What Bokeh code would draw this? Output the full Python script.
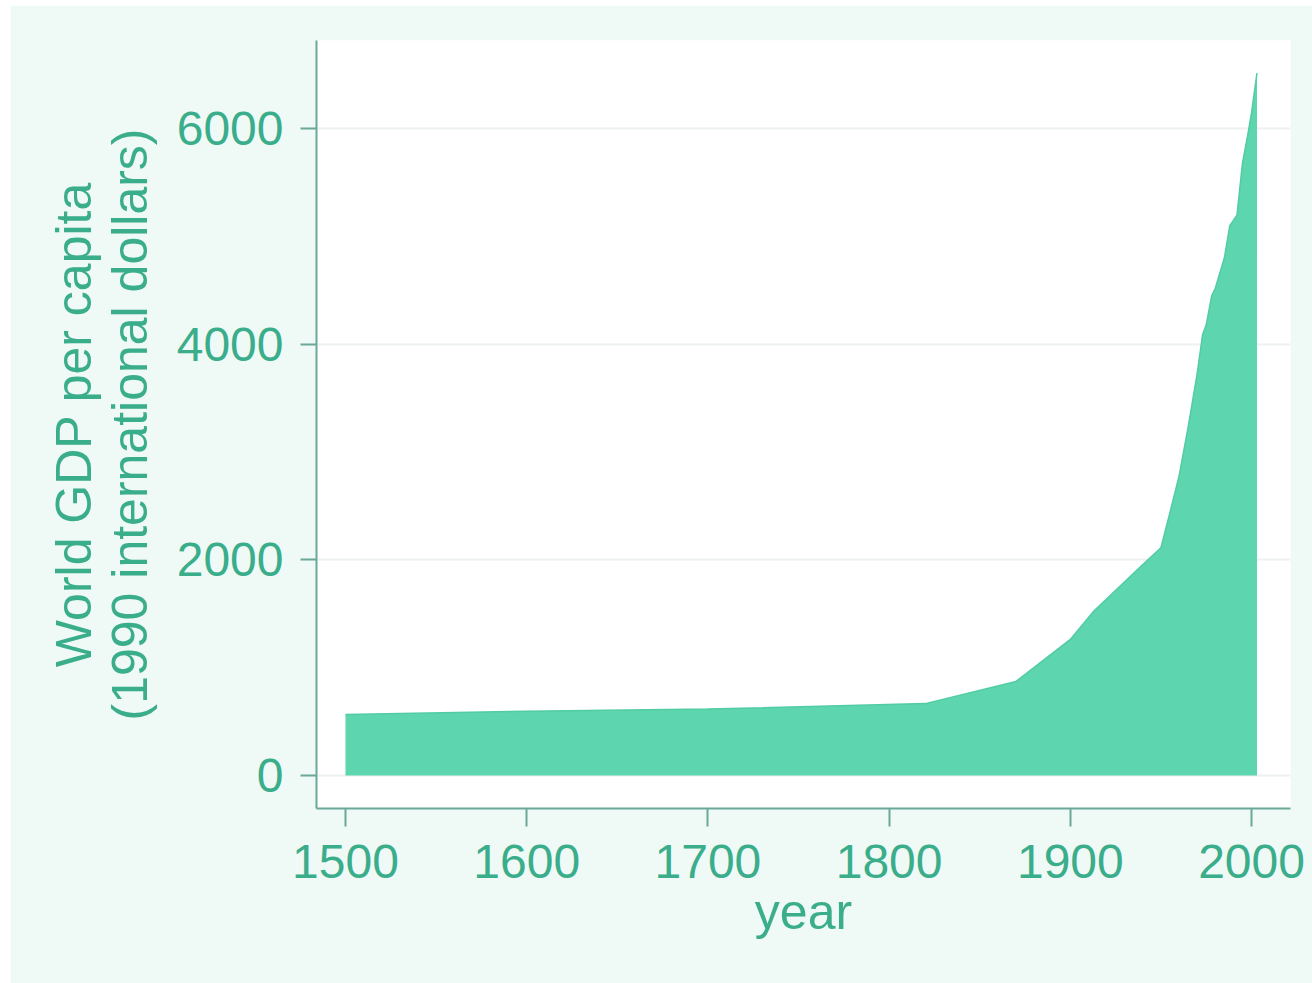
from bokeh.plotting import figure
from bokeh.models import FixedTicker, ColumnDataSource
from bokeh.embed import file_html
from bokeh.resources import INLINE

years = [1500, 1600, 1700, 1820, 1870, 1900, 1913, 1940, 1950, 1955, 1960, 1965,
         1970, 1973, 1975, 1978, 1980, 1985, 1988, 1990, 1992, 1995, 1998, 2000, 2003]
gdp_pc = [566, 596, 616, 667, 873, 1262, 1526, 1958, 2113, 2440, 2777, 3230,
          3729, 4091, 4180, 4450, 4520, 4800, 5100, 5150, 5200, 5680, 5950, 6150, 6516]
x_ticks = [1500, 1600, 1700, 1800, 1900, 2000]
y_ticks = [0, 2000, 4000, 6000]
zeros = [0] * len(years)

src = ColumnDataSource(dict(x=years, y=gdp_pc, z=zeros))

TEAL_TEXT = "#3aad8a"
AXIS_COL = "#6aa898"
BG = "#eff9f6"
FILL = "#5dd5ae"

p = figure(frame_width=974, frame_height=768,
           x_range=(1484, 2021.5), y_range=(-306, 6818),
           output_backend="svg", toolbar_location=None,
           min_border_left=306, min_border_right=22,
           min_border_top=35, min_border_bottom=175)
p.margin = (5, 0, 0, 10)
p.background_fill_color = "white"
p.border_fill_color = BG
p.outline_line_color = None

p.varea(x="x", y1="z", y2="y", source=src, fill_color=FILL, fill_alpha=1.0)
p.line(x="x", y="y", source=src, line_color="#52cca4", line_width=1.5)

p.xgrid.grid_line_color = None
p.ygrid.ticker = FixedTicker(ticks=y_ticks)
p.ygrid.grid_line_color = "#eef1f1"
p.ygrid.grid_line_width = 2

for ax in (p.xaxis[0], p.yaxis[0]):
    ax.axis_line_color = AXIS_COL
    ax.axis_line_width = 2
    ax.major_tick_line_color = AXIS_COL
    ax.major_tick_line_width = 2
    ax.major_tick_in = 0
    ax.minor_tick_line_color = None
    ax.major_label_text_color = TEAL_TEXT
    ax.major_label_text_font = "Liberation Sans"
    ax.major_label_text_font_size = "48px"
    ax.axis_label_text_color = TEAL_TEXT
    ax.axis_label_text_font = "Liberation Sans"
    ax.axis_label_text_font_size = "50px"
    ax.axis_label_text_font_style = "normal"

p.xaxis.ticker = FixedTicker(ticks=x_ticks)
p.yaxis.ticker = FixedTicker(ticks=y_ticks)
p.xaxis.major_tick_out = 18
p.yaxis.major_tick_out = 16
p.xaxis.major_label_standoff = 18
p.yaxis.major_label_standoff = 17
p.xaxis.axis_label = "year"
p.xaxis.axis_label_standoff = 3
p.yaxis.axis_label = "World GDP per capita\n(1990 international dollars)"
p.yaxis.axis_label_standoff = 16
p.yaxis.axis_label_text_line_height = 1.0
p.yaxis.major_label_orientation = "horizontal"

open("out.html", "w").write(file_html(p, INLINE))
